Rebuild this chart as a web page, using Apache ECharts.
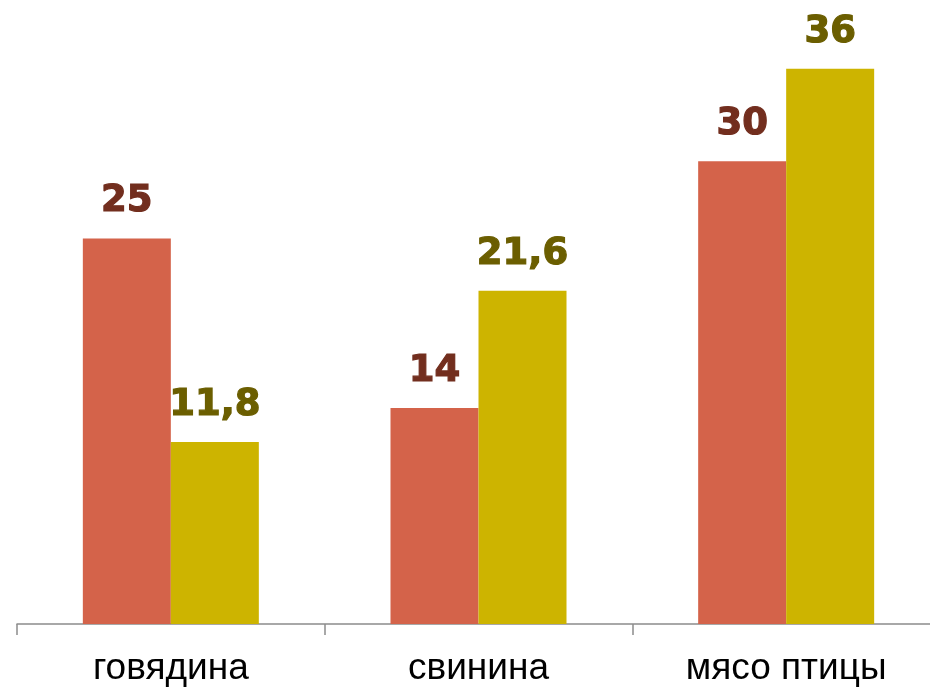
<!DOCTYPE html>
<html>
<head>
<meta charset="utf-8">
<script src="https://cdn.jsdelivr.net/npm/echarts@6/dist/echarts.min.js"></script>
<style>
  html, body { margin: 0; padding: 0; background: #ffffff; overflow: hidden; width: 930px; height: 687px; }
  #chart { width: 940px; height: 687px; }
</style>
</head>
<body>
<div id="chart"></div>
<script>
// Meat categories and two series of values
const categories = ['говядина', 'свинина', 'мясо птицы'];
const seriesA = [25, 14, 30];
const seriesB = [11.8, 21.6, 36];

const fmt = v => String(v).replace('.', ',');

const chart = echarts.init(document.getElementById('chart'), null, { renderer: 'canvas' });

function valueLabel(color) {
  return {
    show: true,
    position: 'top',
    distance: 18,
    fontFamily: '"DejaVu Sans", sans-serif',
    fontWeight: 'bold',
    fontSize: 37,
    color: color,
    textBorderColor: color,
    textBorderWidth: 1.2,
    formatter: p => fmt(p.value)
  };
}

chart.setOption({
  animation: false,
  backgroundColor: '#ffffff',
  grid: { left: 17, right: 0, top: 7, bottom: 59, containLabel: false },
  xAxis: {
    type: 'category',
    data: categories,
    axisLine: { show: true, lineStyle: { color: '#8c8c8c', width: 1.5 } },
    axisTick: { show: true, length: 11, lineStyle: { color: '#8c8c8c', width: 1.5 } },
    axisLabel: {
      margin: 26,
      color: '#000000',
      fontFamily: '"Liberation Sans", Arial, sans-serif',
      fontSize: 37
    }
  },
  yAxis: {
    type: 'value',
    min: 0,
    max: 40,
    show: false,
    splitLine: { show: false }
  },
  series: [
    {
      type: 'bar',
      data: seriesA,
      barWidth: 88,
      barGap: '0%',
      itemStyle: { color: '#D4634A' },
      label: valueLabel('#722E1E')
    },
    {
      type: 'bar',
      data: seriesB,
      barWidth: 88,
      barGap: '0%',
      itemStyle: { color: '#CDB400' },
      label: valueLabel('#6B5E00')
    }
  ]
});
</script>
</body>
</html>
